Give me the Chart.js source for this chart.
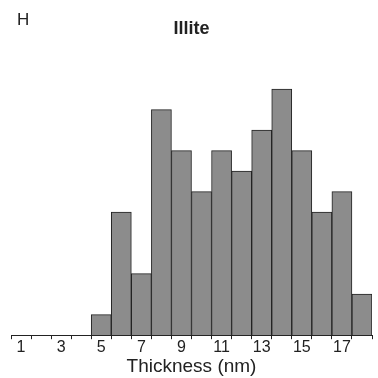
<!DOCTYPE html>
<html lang="en">
<head>
    <meta charset="UTF-8">
    <title>Illite thickness histogram</title>
    <script src="https://cdn.jsdelivr.net/npm/chart.js@4.4.1/dist/chart.umd.min.js"></script>
    <style>
        html, body { margin: 0; padding: 0; background: #fff; }
        .chart-container { position: relative; width: 378px; height: 378px; }
    </style>
</head>
<body>
    <div class="chart-container">
        <canvas id="histChart"></canvas>
    </div>

    <script>
        // Data
        const thickness = [5, 6, 7, 8, 9, 10, 11, 12, 13, 14, 15, 16, 17, 18];
        const counts = [1, 6, 3, 11, 9, 7, 9, 8, 10, 12, 9, 6, 7, 2];
        const tickLabels = [1, 3, 5, 7, 9, 11, 13, 15, 17];
        const binEdges = [0.5, 1.5, 2.5, 3.5, 4.5, 5.5, 6.5, 7.5, 8.5, 9.5, 10.5, 11.5,
                          12.5, 13.5, 14.5, 15.5, 16.5, 17.5, 18.5];

        const ink = '#222';
        const fontFamily = '"Liberation Sans", Arial, sans-serif';

        // panel letter in the top left corner
        const panelLetter = {
            id: 'panelLetter',
            afterDraw(chart) {
                const ctx = chart.ctx;
                ctx.save();
                ctx.fillStyle = ink;
                ctx.font = '17px ' + fontFamily;
                ctx.textBaseline = 'middle';
                ctx.fillText('H', 17, 20);
                ctx.restore();
            }
        };

        new Chart(document.getElementById('histChart'), {
            type: 'bar',
            data: {
                datasets: [{
                    label: 'Illite',
                    data: thickness.map((t, i) => ({ x: t, y: counts[i] })),
                    backgroundColor: '#8c8c8c',
                    borderColor: ink,
                    borderWidth: 1,
                    barPercentage: 1,
                    categoryPercentage: 1
                }]
            },
            options: {
                responsive: true,
                maintainAspectRatio: false,
                animation: false,
                layout: { padding: { left: 11, right: 6, top: 0, bottom: 0 } },
                plugins: {
                    legend: { display: false },
                    tooltip: { enabled: false },
                    title: {
                        display: true,
                        text: 'Illite',
                        color: ink,
                        font: { family: fontFamily, size: 18 },
                        padding: { top: 18, bottom: 29 }
                    }
                },
                scales: {
                    // hidden axis the bars are placed on (one tick per bin -> full-width bars)
                    x: {
                        type: 'linear',
                        display: false,
                        offset: false,
                        min: 0.5,
                        max: 18.5,
                        afterBuildTicks: (scale) => {
                            scale.ticks = thickness.map(v => ({ value: v }));
                        }
                    },
                    // visible axis: tick marks at bin edges, labels at odd values
                    xAxis: {
                        type: 'linear',
                        position: 'bottom',
                        offset: false,
                        min: 0.5,
                        max: 18.5,
                        afterBuildTicks: (scale) => {
                            const vals = binEdges.concat(tickLabels).sort((a, b) => a - b);
                            scale.ticks = vals.map(v => ({ value: v }));
                        },
                        border: { display: true, color: ink, width: 1 },
                        grid: {
                            offset: false,
                            drawOnChartArea: false,
                            drawTicks: true,
                            tickLength: 4,
                            tickWidth: 1,
                            tickColor: (c) => (c.tick && Number.isInteger(c.tick.value)) ? 'rgba(0,0,0,0)' : ink
                        },
                        ticks: {
                            autoSkip: false,
                            maxRotation: 0,
                            padding: 0,
                            color: ink,
                            font: { family: fontFamily, size: 16, lineHeight: 1 },
                            callback: (v) => tickLabels.includes(v) ? String(v) : ''
                        },
                        title: {
                            display: true,
                            text: 'Thickness (nm)',
                            color: ink,
                            font: { family: fontFamily, size: 19 },
                            padding: { top: 0, bottom: 0 }
                        }
                    },
                    y: {
                        display: false,
                        min: 0,
                        max: 13
                    }
                }
            },
            plugins: [panelLetter]
        });
    </script>
</body>
</html>
